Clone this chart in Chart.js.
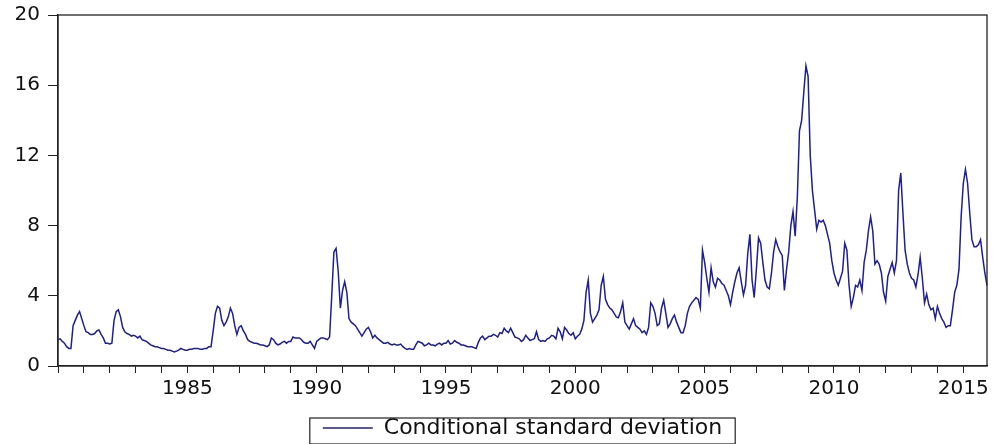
<!DOCTYPE html>
<html>
<head>
<meta charset="utf-8">
<script src="https://cdn.jsdelivr.net/npm/chart.js@4.4.1/dist/chart.umd.min.js"></script>
<style>
  html, body { margin: 0; padding: 0; background: #fff; }
  canvas { display: block; }
</style>
</head>
<body>
<canvas id="myChart" width="993" height="444"></canvas>
<script>
// monthly conditional standard deviation
const sd1980to1984 = [
    1.5, 1.55, 1.4, 1.3, 1.1, 1.0, 1.0, 2.3, 2.6, 2.9, 3.1, 2.7,
    2.3, 1.95, 1.9, 1.8, 1.8, 1.85, 2.0, 2.05, 1.8, 1.6, 1.3, 1.3,
    1.25, 1.3, 2.6, 3.1, 3.2, 2.8, 2.2, 1.95, 1.85, 1.8, 1.7, 1.75,
    1.7, 1.6, 1.7, 1.5, 1.45, 1.4, 1.3, 1.2, 1.15, 1.1, 1.1, 1.05,
    1.0, 1.0, 0.95, 0.9, 0.9, 0.85, 0.8, 0.85, 0.9, 1.0, 0.95, 0.9
];
const sd1985to1989 = [
    0.9, 0.95, 0.95, 1.0, 1.0, 1.0, 0.95, 0.95, 1.0, 1.0, 1.1, 1.1,
    2.0, 3.0, 3.4, 3.3, 2.6, 2.3, 2.5, 2.8, 3.3, 3.0, 2.3, 1.8,
    2.2, 2.3, 2.0, 1.8, 1.5, 1.4, 1.35, 1.3, 1.3, 1.25, 1.2, 1.2,
    1.15, 1.1, 1.2, 1.6, 1.5, 1.3, 1.2, 1.25, 1.35, 1.4, 1.3, 1.4,
    1.4, 1.65, 1.6, 1.6, 1.6, 1.5, 1.35, 1.3, 1.3, 1.4, 1.2, 1.0
];
const sd1990to1994 = [
    1.4, 1.5, 1.6, 1.6, 1.55, 1.5, 1.65, 4.0, 6.5, 6.7, 5.4, 3.3,
    4.3, 4.8, 4.2, 2.7, 2.5, 2.4, 2.3, 2.1, 1.9, 1.7, 1.9, 2.1,
    2.2, 1.95, 1.6, 1.75, 1.6, 1.5, 1.4, 1.3, 1.3, 1.35, 1.25, 1.2,
    1.25, 1.2, 1.2, 1.25, 1.1, 1.0, 0.95, 1.0, 0.95, 0.95, 1.2, 1.4,
    1.35, 1.3, 1.15, 1.2, 1.3, 1.2, 1.2, 1.15, 1.25, 1.3, 1.2, 1.3
];
const sd1995to1999 = [
    1.3, 1.45, 1.25, 1.3, 1.45, 1.35, 1.3, 1.2, 1.2, 1.15, 1.1, 1.1,
    1.1, 1.05, 1.0, 1.35, 1.6, 1.7, 1.5, 1.6, 1.7, 1.7, 1.8, 1.75,
    1.65, 1.9, 1.85, 2.15, 2.0, 1.9, 2.15, 1.9, 1.65, 1.6, 1.55, 1.4,
    1.5, 1.75, 1.6, 1.45, 1.5, 1.55, 1.95, 1.5, 1.4, 1.45, 1.4, 1.55,
    1.6, 1.75, 1.7, 1.55, 2.15, 1.95, 1.55, 2.2, 2.05, 1.85, 1.75, 1.9
];
const sd2000to2004 = [
    1.55, 1.7, 1.8, 2.1, 2.6, 4.2, 4.9, 3.0, 2.5, 2.7, 2.9, 3.2,
    4.6, 5.1, 3.8, 3.5, 3.3, 3.2, 3.0, 2.8, 2.75, 3.1, 3.6, 2.5,
    2.3, 2.1, 2.4, 2.7, 2.3, 2.2, 2.1, 1.9, 2.0, 1.8, 2.2, 3.6,
    3.4, 3.0, 2.3, 2.4, 3.3, 3.75, 3.0, 2.2, 2.4, 2.7, 2.9, 2.5,
    2.2, 1.9, 1.9, 2.3, 3.0, 3.4, 3.6, 3.75, 3.9, 3.8, 3.3, 6.6
];
const sd2005to2009 = [
    5.9, 5.0, 4.2, 5.6, 4.8, 4.5, 5.0, 4.9, 4.7, 4.6, 4.3, 4.0,
    3.5, 4.2, 4.8, 5.3, 5.6, 4.8, 4.05, 4.6, 6.4, 7.5, 4.9, 3.9,
    5.5, 7.3, 7.0, 5.9, 4.9, 4.5, 4.4, 5.3, 6.5, 7.2, 6.8, 6.5,
    6.3, 4.3, 5.5, 6.5, 8.0, 8.8, 7.4, 9.6, 13.4, 14.0, 15.6, 17.1,
    16.5, 12.0, 10.0, 8.9, 7.8, 8.3, 8.2, 8.3, 8.0, 7.5, 7.0, 6.0
];
const sd2010to2015 = [
    5.3, 4.9, 4.6, 5.0, 5.4, 7.0, 6.6, 4.6, 3.4, 3.9, 4.6, 4.5,
    4.9, 4.3, 5.9, 6.6, 7.7, 8.5, 7.7, 5.8, 6.0, 5.8, 5.3, 4.2,
    3.7, 5.1, 5.5, 5.9, 5.3, 6.0, 10.0, 11.0, 8.7, 6.6, 5.8, 5.3,
    5.0, 4.9, 4.5, 5.2, 6.2, 5.0, 3.6, 4.1, 3.5, 3.2, 3.3, 2.7,
    3.4, 3.0, 2.7, 2.5, 2.2, 2.3, 2.3, 3.2, 4.2, 4.6, 5.5, 8.5,
    10.4, 11.2, 10.4, 8.7, 7.2, 6.8, 6.8, 6.9, 7.2, 6.2, 5.3, 4.6
];

const firstYear = 1980;
const lastYear = 2015;
const tickYears = ['1985', '1990', '1995', '2000', '2005', '2010', '2015'];
const yTicks = [0, 4, 8, 12, 16, 20];

const series = [].concat(sd1980to1984, sd1985to1989, sd1990to1994,
    sd1995to1999, sd2000to2004, sd2005to2009, sd2010to2015);

const months = [];
for (let y = firstYear; y <= lastYear; y++) {
    for (let m = 1; m <= 12; m++) {
        months.push(y + 'M' + (m < 10 ? '0' + m : m));
    }
}

const axisFont = { family: 'DejaVu Sans', size: 20 };

// box round the plot area and round the legend, like EViews does
const framePlugin = {
    id: 'frame',
    afterLayout(chart) {
        // push the legend row a little lower
        chart.legend.top += 5;
        chart.legend.bottom += 5;
    },
    afterDraw(chart) {
        const ctx = chart.ctx;
        const a = chart.chartArea;
        ctx.save();
        ctx.strokeStyle = '#222';
        ctx.lineWidth = 1.3;
        ctx.strokeRect(a.left, a.top, a.right - a.left, a.bottom - a.top);
        const hb = chart.legend.legendHitBoxes[0];
        if (hb) {
            ctx.lineWidth = 1.2;
            ctx.strokeRect(hb.left - 13, hb.top + 1, hb.width + 26, hb.height + 4);
        }
        ctx.restore();
    }
};

const ctx = document.getElementById('myChart').getContext('2d');

const myChart = new Chart(ctx, {
    type: 'line',
    data: {
        labels: months,
        datasets: [{
            label: 'Conditional standard deviation',
            data: series,
            borderColor: '#1e1e96',
            borderWidth: 1.5,
            pointRadius: 0,
            tension: 0,
            fill: false
        }]
    },
    options: {
        responsive: false,
        animation: false,
        devicePixelRatio: 1,
        layout: {
            padding: { top: 15, right: 6, left: 0, bottom: 0 }
        },
        plugins: {
            tooltip: { enabled: false },
            legend: {
                position: 'bottom',
                fullSize: false,
                labels: {
                    font: { family: 'DejaVu Sans', size: 22 },
                    color: '#111',
                    usePointStyle: true,
                    pointStyle: 'line',
                    pointStyleWidth: 50,
                    boxWidth: 50,
                    padding: 1
                }
            }
        },
        scales: {
            x: {
                type: 'category',
                offset: false,
                afterBuildTicks(scale) {
                    scale.ticks = scale.ticks.filter(t => t.value % 12 === 0);
                },
                afterFit(scale) {
                    scale.height = 45;
                    scale.paddingLeft = 0;
                    scale.paddingRight = 0;
                },
                ticks: {
                    autoSkip: false,
                    maxRotation: 0,
                    minRotation: 0,
                    padding: 4,
                    color: '#111',
                    font: axisFont,
                    callback(value) {
                        const year = this.getLabelForValue(value).slice(0, 4);
                        return tickYears.includes(year) ? year : '';
                    }
                },
                grid: {
                    drawOnChartArea: false,
                    drawTicks: true,
                    tickLength: 7,
                    color: '#222'
                },
                border: { color: '#222', width: 1.3 }
            },
            y: {
                min: 0,
                max: 20,
                afterBuildTicks(scale) {
                    scale.ticks = yTicks.map(v => ({ value: v }));
                },
                afterFit(scale) {
                    scale.width = 58;
                    scale.paddingTop = 0;
                    scale.paddingBottom = 0;
                },
                ticks: {
                    padding: 8,
                    color: '#111',
                    font: axisFont
                },
                grid: {
                    drawOnChartArea: false,
                    drawTicks: true,
                    tickLength: 10,
                    color: '#222'
                },
                border: { color: '#222', width: 1.3 }
            }
        }
    },
    plugins: [framePlugin]
});
</script>
</body>
</html>
